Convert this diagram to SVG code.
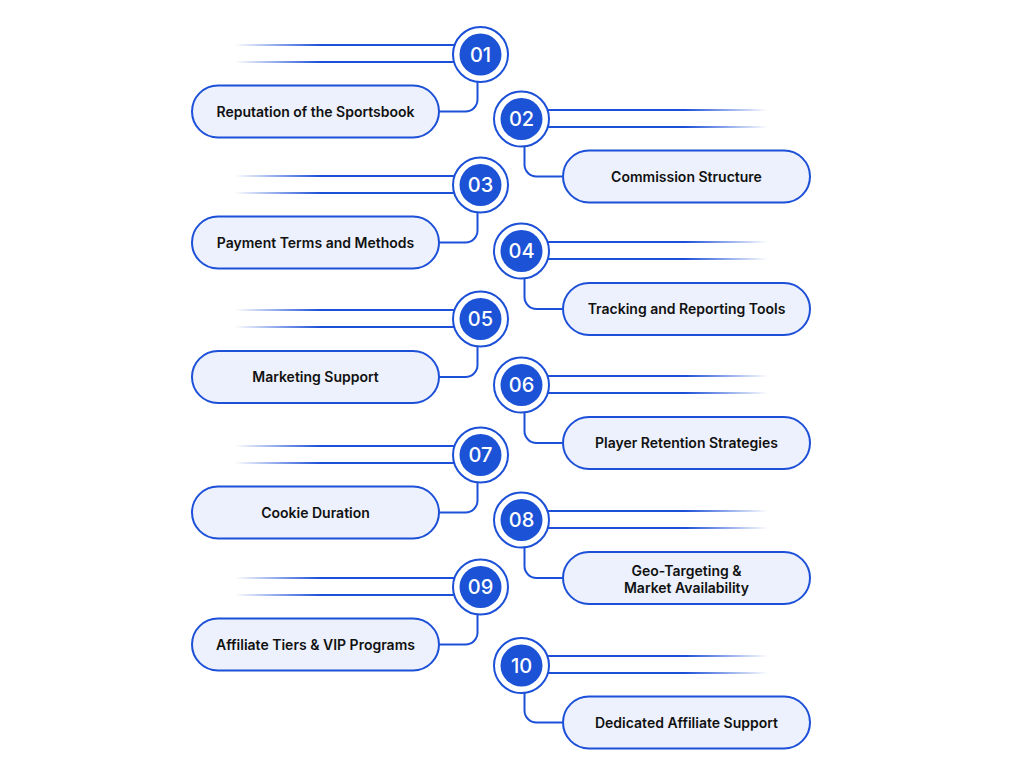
<svg xmlns="http://www.w3.org/2000/svg" width="1024" height="777" viewBox="0 0 1024 777">
<defs>
<linearGradient id="fadeL" gradientUnits="userSpaceOnUse" x1="235" y1="0" x2="320" y2="0">
<stop offset="0" stop-color="#1d50d8" stop-opacity="0"/>
<stop offset="1" stop-color="#1d50d8" stop-opacity="1"/>
</linearGradient>
<linearGradient id="fadeR" gradientUnits="userSpaceOnUse" x1="685" y1="0" x2="768" y2="0">
<stop offset="0" stop-color="#1d50d8" stop-opacity="1"/>
<stop offset="1" stop-color="#1d50d8" stop-opacity="0"/>
</linearGradient>
<style>
.ring{fill:#fff;stroke:#1d50d8;stroke-width:2}
.dot{fill:#1b52d6}
.num{font-family:Inter,"Liberation Sans",sans-serif;font-size:20px;font-weight:500;fill:#fff;text-anchor:middle}
.pill{fill:#edf1fd;stroke:#1d50d8;stroke-width:2}
.lbl{font-family:Inter,"Liberation Sans",sans-serif;font-size:14px;font-weight:600;fill:#111;text-anchor:middle}
.lnL{stroke:url(#fadeL);stroke-width:2;fill:none}
.lnR{stroke:url(#fadeR);stroke-width:2;fill:none}
.con{stroke:#1d50d8;stroke-width:2;fill:none}
</style>
</defs>
<rect width="1024" height="777" fill="#fff"/>
<g id="connectors">
<path class="lnL" d="M235 45H455M235 62H455"/>
<path class="con" d="M477.5 82V99.5A12 12 0 0 1 465.5 111.5H439"/>
<path class="lnR" d="M548 110H768M548 127H768"/>
<path class="con" d="M524.5 146.5V164.5A12 12 0 0 0 536.5 176.5H563"/>
<path class="lnL" d="M235 176H455M235 193H455"/>
<path class="con" d="M477.5 212.5V230.5A12 12 0 0 1 465.5 242.5H439"/>
<path class="lnR" d="M548 242H768M548 259H768"/>
<path class="con" d="M524.5 278.5V297A12 12 0 0 0 536.5 309H563"/>
<path class="lnL" d="M235 310H455M235 327H455"/>
<path class="con" d="M477.5 346.5V365A12 12 0 0 1 465.5 377H439"/>
<path class="lnR" d="M548 376H768M548 393H768"/>
<path class="con" d="M524.5 412.5V431A12 12 0 0 0 536.5 443H563"/>
<path class="lnL" d="M235 446H455M235 463H455"/>
<path class="con" d="M477.5 482.5V500.5A12 12 0 0 1 465.5 512.5H439"/>
<path class="lnR" d="M548 511H768M548 528H768"/>
<path class="con" d="M524.5 547.5V566A12 12 0 0 0 536.5 578H563"/>
<path class="lnL" d="M235 578H455M235 595H455"/>
<path class="con" d="M477.5 614.5V632.5A12 12 0 0 1 465.5 644.5H439"/>
<path class="lnR" d="M548 656H768M548 673H768"/>
<path class="con" d="M524.5 693V710.5A12 12 0 0 0 536.5 722.5H563"/>
</g>
<g id="node01">
<circle class="ring" cx="480.5" cy="54.5" r="27.5"/><circle class="dot" cx="480.5" cy="54.5" r="21"/>
<text class="num" x="480.5" y="61.5">01</text>
<rect class="pill" x="192" y="85.5" width="247" height="52" rx="26"/>
<text class="lbl" x="315.5" y="116.5">Reputation of the Sportsbook</text>
</g>
<g id="node02">
<circle class="ring" cx="521.5" cy="119" r="27.5"/><circle class="dot" cx="521.5" cy="119" r="21"/>
<text class="num" x="521.5" y="126">02</text>
<rect class="pill" x="563" y="150.5" width="247" height="52" rx="26"/>
<text class="lbl" x="686.5" y="181.5">Commission Structure</text>
</g>
<g id="node03">
<circle class="ring" cx="480.5" cy="185" r="27.5"/><circle class="dot" cx="480.5" cy="185" r="21"/>
<text class="num" x="480.5" y="192">03</text>
<rect class="pill" x="192" y="216.5" width="247" height="52" rx="26"/>
<text class="lbl" x="315.5" y="247.5">Payment Terms and Methods</text>
</g>
<g id="node04">
<circle class="ring" cx="521.5" cy="251" r="27.5"/><circle class="dot" cx="521.5" cy="251" r="21"/>
<text class="num" x="521.5" y="258">04</text>
<rect class="pill" x="563" y="283" width="247" height="52" rx="26"/>
<text class="lbl" x="686.5" y="314">Tracking and Reporting Tools</text>
</g>
<g id="node05">
<circle class="ring" cx="480.5" cy="319" r="27.5"/><circle class="dot" cx="480.5" cy="319" r="21"/>
<text class="num" x="480.5" y="326">05</text>
<rect class="pill" x="192" y="351" width="247" height="52" rx="26"/>
<text class="lbl" x="315.5" y="382">Marketing Support</text>
</g>
<g id="node06">
<circle class="ring" cx="521.5" cy="385" r="27.5"/><circle class="dot" cx="521.5" cy="385" r="21"/>
<text class="num" x="521.5" y="392">06</text>
<rect class="pill" x="563" y="417" width="247" height="52" rx="26"/>
<text class="lbl" x="686.5" y="448">Player Retention Strategies</text>
</g>
<g id="node07">
<circle class="ring" cx="480.5" cy="455" r="27.5"/><circle class="dot" cx="480.5" cy="455" r="21"/>
<text class="num" x="480.5" y="462">07</text>
<rect class="pill" x="192" y="486.5" width="247" height="52" rx="26"/>
<text class="lbl" x="315.5" y="517.5">Cookie Duration</text>
</g>
<g id="node08">
<circle class="ring" cx="521.5" cy="520" r="27.5"/><circle class="dot" cx="521.5" cy="520" r="21"/>
<text class="num" x="521.5" y="527">08</text>
<rect class="pill" x="563" y="552" width="247" height="52" rx="26"/>
<text class="lbl" x="686.5" y="576">Geo-Targeting &amp;</text>
<text class="lbl" x="686.5" y="592.5">Market Availability</text>
</g>
<g id="node09">
<circle class="ring" cx="480.5" cy="587" r="27.5"/><circle class="dot" cx="480.5" cy="587" r="21"/>
<text class="num" x="480.5" y="594">09</text>
<rect class="pill" x="192" y="618.5" width="247" height="52" rx="26"/>
<text class="lbl" x="315.5" y="649.5">Affiliate Tiers &amp; VIP Programs</text>
</g>
<g id="node10">
<circle class="ring" cx="521.5" cy="665.5" r="27.5"/><circle class="dot" cx="521.5" cy="665.5" r="21"/>
<text class="num" x="521.5" y="672.5">10</text>
<rect class="pill" x="563" y="696.5" width="247" height="52" rx="26"/>
<text class="lbl" x="686.5" y="727.5">Dedicated Affiliate Support</text>
</g>
</svg>
